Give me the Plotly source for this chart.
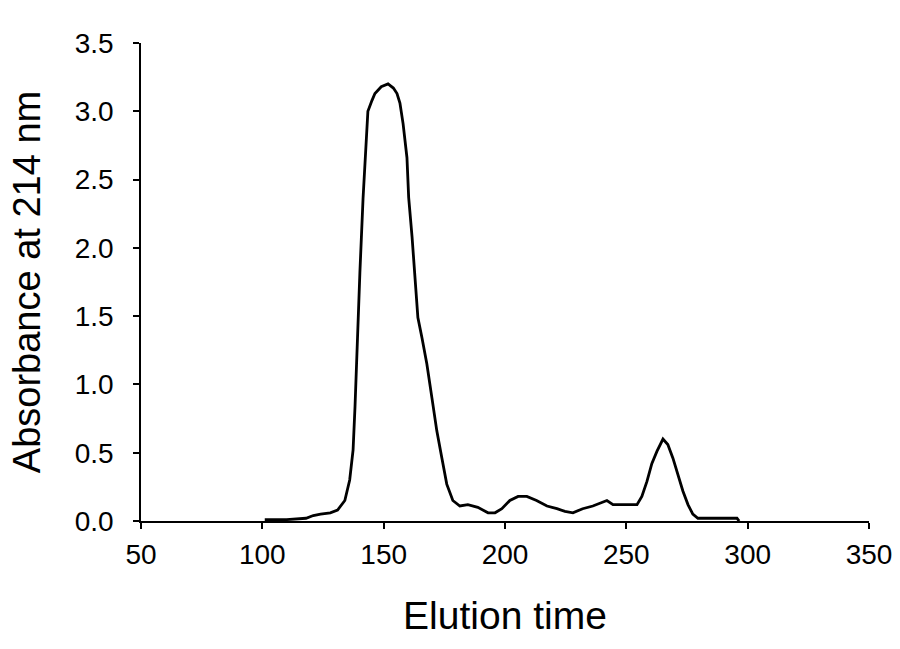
import plotly.graph_objects as go

elution_time = [101, 110, 118, 121, 124, 128, 131, 134, 136, 137.4, 138.2, 139, 140.2, 141.5,
                142.7, 143.5, 145.2, 146.4, 149, 151.8, 154, 155.5, 156.7, 158, 159.6, 160.3,
                161.7, 162.9, 164.1, 165.8, 167.8, 169.9, 171.9, 174, 176, 178.5, 181.4, 184.7,
                188.8, 193, 195.9, 198.7, 202, 205.4, 209, 213, 217.3, 221.4, 224.7, 228, 232,
                236.2, 242, 244.5, 250.2, 254.4, 256.4, 258.5, 260.5, 262.6, 265.1, 267.1,
                269.2, 271.2, 273.3, 275.4, 277.4, 279.5, 290, 295.6, 296.5]
absorbance = [0.01, 0.01, 0.02, 0.04, 0.05, 0.06, 0.08, 0.15, 0.30, 0.52, 0.84, 1.28, 1.82, 2.36,
              2.80, 3.00, 3.08, 3.13, 3.18, 3.20, 3.17, 3.13, 3.06, 2.91, 2.66, 2.37,
              2.08, 1.78, 1.49, 1.34, 1.15, 0.90, 0.66, 0.46, 0.27, 0.15, 0.11, 0.12,
              0.10, 0.06, 0.06, 0.09, 0.15, 0.18, 0.18, 0.15, 0.11, 0.09, 0.07, 0.06, 0.09,
              0.11, 0.15, 0.12, 0.12, 0.12, 0.18, 0.29, 0.42, 0.51, 0.60, 0.56,
              0.46, 0.34, 0.22, 0.12, 0.05, 0.02, 0.02, 0.02, 0.0]

x_ticks = [50, 100, 150, 200, 250, 300, 350]
y_ticks = [0.0, 0.5, 1.0, 1.5, 2.0, 2.5, 3.0, 3.5]

fig = go.Figure()
fig.add_trace(go.Scatter(x=elution_time, y=absorbance, mode="lines",
                         line=dict(color="black", width=2.8), showlegend=False))

font = "Liberation Sans, Arial, sans-serif"
fig.update_layout(
    width=900, height=649,
    margin=dict(l=141, r=31, t=43, b=128, autoexpand=False),
    paper_bgcolor="white", plot_bgcolor="white",
    font=dict(family=font, color="black", size=28),
)
fig.update_xaxes(range=[50, 350], tickvals=x_ticks, showgrid=False, zeroline=False,
                 showline=True, linecolor="black", linewidth=1.5, automargin=False,
                 ticks="outside", ticklen=6, tickwidth=1.5, tickcolor="black",
                 ticklabelstandoff=2,
                 title=dict(text="Elution time", font=dict(size=39), standoff=32))
fig.update_yaxes(range=[0, 3.5], tickvals=y_ticks, tickformat=".1f", showgrid=False,
                 zeroline=False, showline=True, linecolor="black", linewidth=1.5,
                 automargin=False,
                 ticks="outside", ticklen=6, tickwidth=1.5, tickcolor="black",
                 ticklabelstandoff=14,
                 title=dict(text="Absorbance at 214 nm", font=dict(size=38), standoff=22))

fig.write_html("out.html", config={"displayModeBar": False},
               post_script="document.body.style.margin='0';document.body.style.overflow='hidden';")
